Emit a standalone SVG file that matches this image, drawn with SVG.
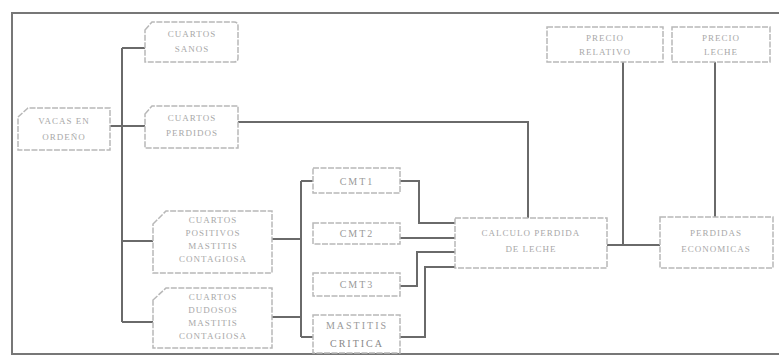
<svg xmlns="http://www.w3.org/2000/svg" width="779" height="358" viewBox="0 0 779 358">
<style>
.bg{fill:#fff}
.frame{fill:none;stroke:#777;stroke-width:2}
.box{fill:#fff;stroke:#b8b8b8;stroke-width:1.5;stroke-dasharray:6 1.5}
.t{font-family:"Liberation Serif",serif;font-size:9px;fill:#a8a8a8;text-anchor:middle;letter-spacing:1px}
.tb{font-family:"Liberation Serif",serif;font-size:10px;fill:#9a9a9a;text-anchor:middle;letter-spacing:2px}
.c{fill:none;stroke:#6a6a6a;stroke-width:2}
</style>
<rect class="bg" x="0" y="0" width="779" height="358"/>
<polyline class="frame" points="779,13 12,13 12,354 779,354"/>
<g id="connectors">
<polyline class="c" points="122,48 122,322"/>
<polyline class="c" points="110,126 145,126"/>
<polyline class="c" points="122,48 145,48"/>
<polyline class="c" points="122,241 153,241"/>
<polyline class="c" points="122,322 153,322"/>
<polyline class="c" points="238,122 528,122 528,218"/>
<polyline class="c" points="301,181 301,337"/>
<polyline class="c" points="272,239 301,239"/>
<polyline class="c" points="272,317 301,317"/>
<polyline class="c" points="301,181 313,181"/>
<polyline class="c" points="301,337 313,337"/>
<polyline class="c" points="400,181 419,181 419,223 455,223"/>
<polyline class="c" points="400,238 455,238"/>
<polyline class="c" points="400,286 417,286 417,252 455,252"/>
<polyline class="c" points="400,337 425,337 425,267 455,267"/>
<polyline class="c" points="607,245 660,245"/>
<polyline class="c" points="623,62 623,245"/>
<polyline class="c" points="715,62 715,217"/>
</g>
<g id="vacas">
<path class="box" d="M18,117 L28,108 L110,108 L110,150 L18,150 Z"/>
<text class="t" x="64" y="124">VACAS EN</text>
<text class="t" x="64" y="140">ORDEÑO</text>
</g>
<g id="sanos">
<path class="box" d="M145,30 L152,22 L234,22 Q238,22 238,26 L238,58 Q238,62 234,62 L145,62 Z"/>
<text class="t" x="192" y="37">CUARTOS</text>
<text class="t" x="192" y="52">SANOS</text>
</g>
<g id="perdidos">
<path class="box" d="M145,114 L152,106 L238,106 L238,148 L145,148 Z"/>
<text class="t" x="192" y="121">CUARTOS</text>
<text class="t" x="192" y="136">PERDIDOS</text>
</g>
<g id="positivos">
<path class="box" d="M153,224 L166,211 L272,211 L272,273 L153,273 Z"/>
<text class="t" x="213" y="223">CUARTOS</text>
<text class="t" x="213" y="236">POSITIVOS</text>
<text class="t" x="213" y="249">MASTITIS</text>
<text class="t" x="213" y="262">CONTAGIOSA</text>
</g>
<g id="dudosos">
<path class="box" d="M153,300 L166,288 L272,288 L272,348 L153,348 Z"/>
<text class="t" x="213" y="300">CUARTOS</text>
<text class="t" x="213" y="313">DUDOSOS</text>
<text class="t" x="213" y="326">MASTITIS</text>
<text class="t" x="213" y="339">CONTAGIOSA</text>
</g>
<g id="cmt1">
<rect class="box" x="313" y="168" width="87" height="25"/>
<text class="tb" x="357" y="185">CMT1</text>
</g>
<g id="cmt2">
<rect class="box" x="313" y="223" width="87" height="21"/>
<text class="tb" x="357" y="237">CMT2</text>
</g>
<g id="cmt3">
<rect class="box" x="313" y="273" width="87" height="23"/>
<text class="tb" x="357" y="288">CMT3</text>
</g>
<g id="mastitis">
<rect class="box" x="313" y="315" width="87" height="38"/>
<text class="tb" x="357" y="329">MASTITIS</text>
<text class="tb" x="357" y="347" style="fill:#888">CRITICA</text>
</g>
<g id="calculo">
<rect class="box" x="455" y="218" width="152" height="50"/>
<text class="t" x="531" y="236">CALCULO PERDIDA</text>
<text class="t" x="531" y="252">DE LECHE</text>
</g>
<g id="perdidas">
<rect class="box" x="660" y="217" width="113" height="51"/>
<text class="t" x="716" y="236">PERDIDAS</text>
<text class="t" x="716" y="252">ECONOMICAS</text>
</g>
<g id="precio-relativo">
<rect class="box" x="547" y="27" width="116" height="35"/>
<text class="t" x="605" y="41">PRECIO</text>
<text class="t" x="605" y="55">RELATIVO</text>
</g>
<g id="precio-leche">
<rect class="box" x="672" y="27" width="98" height="35"/>
<text class="t" x="721" y="41">PRECIO</text>
<text class="t" x="721" y="55">LECHE</text>
</g>
</svg>
